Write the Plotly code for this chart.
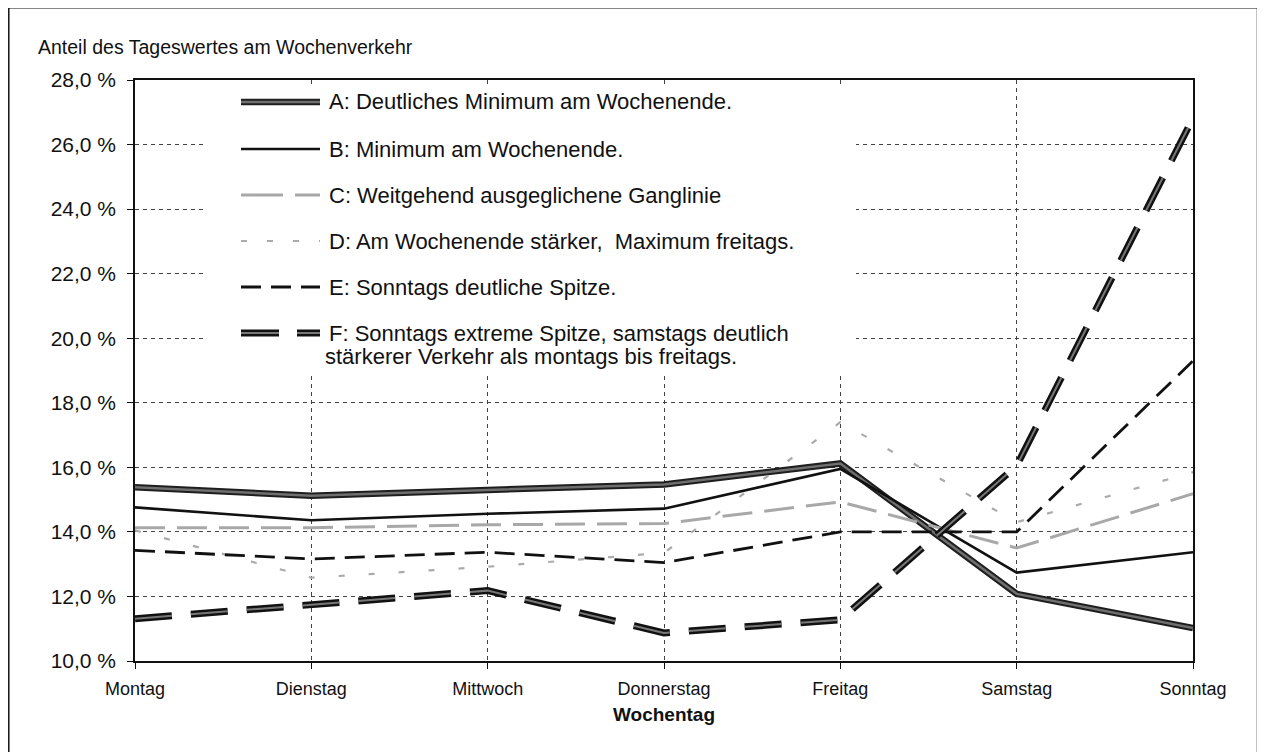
import plotly.graph_objects as go

days = ["Montag", "Dienstag", "Mittwoch", "Donnerstag", "Freitag", "Samstag", "Sonntag"]

A = [15.38, 15.12, 15.30, 15.47, 16.12, 12.08, 11.02]
B = [14.76, 14.36, 14.56, 14.72, 15.95, 12.74, 13.37]
C = [14.13, 14.13, 14.22, 14.26, 14.93, 13.50, 15.18]
D = [14.05, 12.58, 12.92, 13.35, 17.40, 14.30, 15.85]
E = [13.43, 13.16, 13.37, 13.05, 14.00, 14.00, 19.30]
F = [11.31, 11.74, 12.18, 10.87, 11.28, 16.05, 26.82]

legend_texts = [
    "A: Deutliches Minimum am Wochenende.",
    "B: Minimum am Wochenende.",
    "C: Weitgehend ausgeglichene Ganglinie",
    "D: Am Wochenende stärker,  Maximum freitags.",
    "E: Sonntags deutliche Spitze.",
    "F: Sonntags extreme Spitze, samstags deutlich",
]
legend_text_F2 = "stärkerer Verkehr als montags bis freitags."
y_title = "Anteil des Tageswertes am Wochenverkehr"
x_title = "Wochentag"

FONT = "Arial, 'Liberation Sans', sans-serif"
OFF = 8  # default page margin of the html body
W, H = 1265 - OFF, 752 - OFF
# plot area in page pixels
L, R, T, Bm = 135, 1193, 80, 661

def px(x):
    return (x - L) / (R - L)

def py(y):
    return (Bm - y) / (Bm - T)

fig = go.Figure()

# A: thick dark band with grey core
fig.add_trace(go.Scatter(x=days, y=A, mode="lines", name="A", showlegend=False,
                         line=dict(color="#1e1e1e", width=6.5)))
fig.add_trace(go.Scatter(x=days, y=A, mode="lines", name="A", showlegend=False,
                         line=dict(color="#6f6f6f", width=2.5)))
# B: solid black
fig.add_trace(go.Scatter(x=days, y=B, mode="lines", name="B", showlegend=False,
                         line=dict(color="#111111", width=2.6)))
# C: light grey hatched dashes
fig.add_trace(go.Scatter(x=days, y=C, mode="lines", name="C", showlegend=False,
                         line=dict(color="#a8a8a8", width=3, dash="30px,12px")))
# D: sparse light dots
fig.add_trace(go.Scatter(x=days, y=D, mode="lines", name="D", showlegend=False,
                         line=dict(color="#ababab", width=2.2, dash="6px,24px")))
# E: black medium dashes
fig.add_trace(go.Scatter(x=days, y=E, mode="lines", name="E", showlegend=False,
                         line=dict(color="#111111", width=2.8, dash="20px,10px")))
# F: thick dashes with grey core
fig.add_trace(go.Scatter(x=days, y=F, mode="lines", name="F", showlegend=False,
                         line=dict(color="#111111", width=7, dash="37px,19px")))
fig.add_trace(go.Scatter(x=days, y=F, mode="lines", name="F", showlegend=False,
                         line=dict(color="#777777", width=2, dash="37px,19px")))

shapes = []
# outer frame (bottom edge lies just outside the picture, as in the reference)
shapes.append(dict(type="rect", xref="paper", yref="paper",
                   x0=px(8.8), x1=px(1257.5), y0=py(760), y1=py(7.8),
                   line=dict(color="#111111", width=1.5), fillcolor="rgba(0,0,0,0)", layer="above"))
# legend box (white, covers grid)
shapes.append(dict(type="rect", xref="paper", yref="paper",
                   x0=px(207), x1=px(856), y0=py(373), y1=py(88),
                   line=dict(width=0), fillcolor="white", layer="above"))

rows = [102, 149, 195, 241, 287, 333]
sx0, sx1 = 241, 320
# legend samples
def sample(row, **line):
    shapes.append(dict(type="line", xref="paper", yref="paper", x0=px(sx0), x1=px(sx1),
                       y0=py(row), y1=py(row), line=line, layer="above"))

sample(rows[0], color="#1e1e1e", width=6.5)
sample(rows[0], color="#6f6f6f", width=2.5)
sample(rows[1], color="#111111", width=2.6)
sample(rows[2], color="#a8a8a8", width=3, dash="42px,12px")
sample(rows[3], color="#ababab", width=2.2, dash="6px,20px")
sample(rows[4], color="#111111", width=2.8, dash="20px,10px")
sample(rows[5], color="#111111", width=7, dash="38px,18px")
sample(rows[5], color="#777777", width=2, dash="38px,18px")

annotations = []
for r, t in zip(rows, legend_texts):
    annotations.append(dict(text=t, xref="paper", yref="paper", x=px(327), y=py(r),
                            xanchor="left", yanchor="middle", showarrow=False,
                            font=dict(family=FONT, size=22, color="#111111")))
annotations.append(dict(text=legend_text_F2, xref="paper", yref="paper", x=px(323), y=py(356),
                        xanchor="left", yanchor="middle", showarrow=False,
                        font=dict(family=FONT, size=22, color="#111111")))
annotations.append(dict(text=y_title, xref="paper", yref="paper", x=px(36), y=py(47),
                        xanchor="left", yanchor="middle", showarrow=False,
                        font=dict(family=FONT, size=19.5, color="#111111")))
annotations.append(dict(text="<b>" + x_title + "</b>", xref="paper", yref="paper", x=px(664), y=py(714),
                        xanchor="center", yanchor="middle", showarrow=False,
                        font=dict(family=FONT, size=19, color="#111111")))

fig.update_layout(
    width=W, height=H, autosize=False,
    margin=dict(l=L - OFF, r=(W + OFF) - R, t=T - OFF, b=(H + OFF) - Bm, pad=0),
    paper_bgcolor="white", plot_bgcolor="white",
    separators=",.",
    font=dict(family=FONT, color="#111111"),
    shapes=shapes, annotations=annotations,
    showlegend=False,
)
fig.update_xaxes(
    type="category", categoryorder="array", categoryarray=days,
    range=[0, 6], showline=True, linecolor="#111111", linewidth=1.5, mirror=True,
    ticks="outside", ticklen=6, tickcolor="#111111", ticklabelstandoff=5,
    showgrid=True, gridcolor="#444444", gridwidth=1, griddash="4px,4px",
    tickfont=dict(family=FONT, size=18, color="#111111"), zeroline=False,
)
fig.update_yaxes(
    range=[10, 28], dtick=2, tick0=10, tickformat=".1f", ticksuffix=" %",
    showline=True, linecolor="#111111", linewidth=1.5, mirror=True,
    ticks="outside", ticklen=6, tickcolor="#111111", ticklabelstandoff=7,
    showgrid=True, gridcolor="#444444", gridwidth=1, griddash="4px,4px",
    tickfont=dict(family=FONT, size=21, color="#111111"), zeroline=False,
)

fig.write_html("out.html")
